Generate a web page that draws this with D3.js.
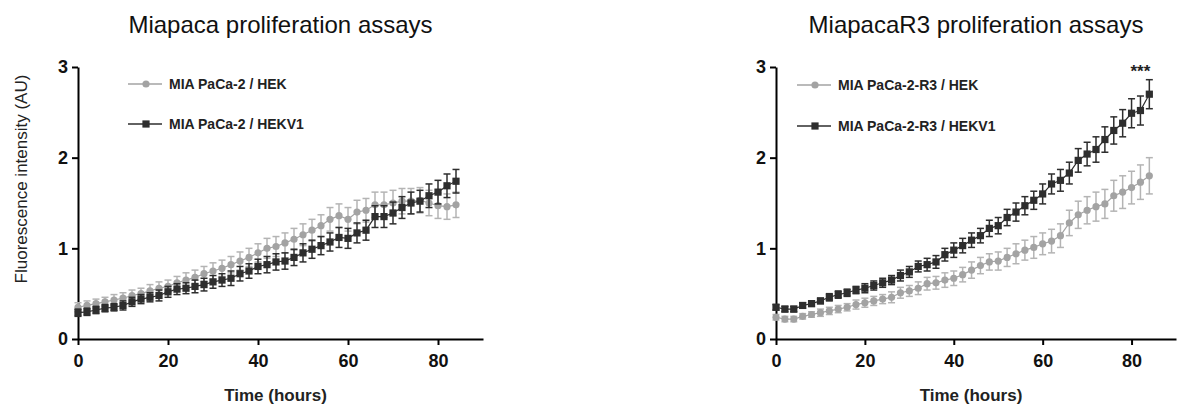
<!DOCTYPE html>
<meta charset="utf-8">
<style>
body { margin: 0; background: #fff; }
text { font-family: "Liberation Sans", Arial, sans-serif; }
.axis path, .axis line { stroke: #000; stroke-width: 2px; }
.axis text { font-size: 18px; font-weight: bold; fill: #111; }
.title { font-size: 24px; fill: #111; }
.xlab { font-size: 17px; font-weight: bold; fill: #222; }
.ylab { font-size: 17px; fill: #222; }
.leg { font-size: 14px; font-weight: bold; fill: #222; }
</style>
<svg width="1178" height="407" id="chart"></svg>
<script src="https://d3js.org/d3.v7.min.js"></script>
<script>
// time points (hours)
var hours = d3.range(0, 86, 2);

// left panel: MIA PaCa-2
var hekA = [0.35,0.37,0.39,0.41,0.43,0.45,0.48,0.50,0.53,0.56,0.58,0.62,0.65,0.68,0.72,0.75,0.78,0.82,0.86,0.90,0.95,1.00,1.02,1.06,1.10,1.15,1.20,1.25,1.32,1.36,1.32,1.40,1.42,1.48,1.48,1.50,1.52,1.52,1.53,1.50,1.47,1.46,1.48];
var hekAerr = [0.05,0.05,0.05,0.05,0.06,0.06,0.06,0.06,0.07,0.07,0.07,0.07,0.08,0.08,0.08,0.09,0.09,0.09,0.10,0.10,0.10,0.11,0.11,0.11,0.12,0.12,0.12,0.12,0.13,0.13,0.13,0.13,0.13,0.14,0.14,0.14,0.14,0.14,0.14,0.14,0.14,0.14,0.14];
var v1A = [0.29,0.30,0.32,0.34,0.35,0.37,0.41,0.44,0.46,0.48,0.52,0.55,0.56,0.58,0.60,0.63,0.65,0.67,0.72,0.75,0.80,0.82,0.85,0.86,0.90,0.95,0.99,1.03,1.07,1.12,1.11,1.17,1.20,1.35,1.35,1.39,1.45,1.50,1.52,1.58,1.62,1.69,1.74];
var v1Aerr = [0.04,0.04,0.04,0.04,0.04,0.05,0.05,0.05,0.05,0.06,0.06,0.06,0.06,0.07,0.07,0.07,0.07,0.08,0.08,0.08,0.08,0.09,0.09,0.09,0.09,0.10,0.10,0.10,0.10,0.11,0.11,0.11,0.11,0.12,0.12,0.12,0.12,0.12,0.12,0.13,0.13,0.13,0.13];

// right panel: MIA PaCa-2-R3
var hekB = [0.24,0.22,0.22,0.25,0.27,0.29,0.31,0.33,0.35,0.38,0.40,0.42,0.44,0.46,0.51,0.53,0.56,0.61,0.62,0.65,0.67,0.71,0.76,0.81,0.85,0.86,0.90,0.94,0.98,1.01,1.05,1.08,1.14,1.28,1.37,1.42,1.46,1.49,1.58,1.62,1.67,1.73,1.80];
var hekBerr = [0.03,0.03,0.03,0.03,0.03,0.04,0.04,0.04,0.04,0.05,0.05,0.05,0.05,0.06,0.06,0.06,0.07,0.07,0.07,0.08,0.08,0.08,0.09,0.09,0.09,0.10,0.10,0.11,0.11,0.12,0.12,0.13,0.13,0.14,0.15,0.15,0.16,0.16,0.17,0.18,0.18,0.19,0.20];
var v1B = [0.35,0.33,0.33,0.37,0.39,0.42,0.46,0.49,0.51,0.54,0.56,0.59,0.62,0.65,0.70,0.74,0.80,0.82,0.85,0.93,0.98,1.03,1.09,1.14,1.22,1.25,1.34,1.40,1.47,1.53,1.60,1.71,1.75,1.83,1.97,2.04,2.09,2.20,2.30,2.38,2.49,2.52,2.70];
var v1Berr = [0.03,0.03,0.03,0.03,0.03,0.03,0.04,0.04,0.04,0.04,0.05,0.05,0.05,0.05,0.06,0.06,0.06,0.07,0.07,0.07,0.08,0.08,0.08,0.08,0.09,0.09,0.09,0.10,0.10,0.10,0.11,0.11,0.12,0.12,0.13,0.13,0.14,0.14,0.15,0.15,0.16,0.16,0.16];

var yTicks = [0, 1, 2, 3];
var xTicks = [0, 20, 40, 60, 80];

var panels = [
  { title: "Miapaca proliferation assays", x0: 78, x1: 483, names: ["MIA PaCa-2 / HEK", "MIA PaCa-2 / HEKV1"],
    gray: hekA, grayErr: hekAerr, dark: v1A, darkErr: v1Aerr, ylab: true, legX: 128, legY: [84, 124], star: false },
  { title: "MiapacaR3 proliferation assays", x0: 776, x1: 1176, names: ["MIA PaCa-2-R3 / HEK", "MIA PaCa-2-R3 / HEKV1"],
    gray: hekB, grayErr: hekBerr, dark: v1B, darkErr: v1Berr, ylab: false, legX: 797, legY: [85, 126], star: true }
];

var svg = d3.select("#chart");
var grayCol = "#a3a3a3", grayBar = "#b4b4b4", darkCol = "#2e2e2e";

panels.forEach(function(p) {
  var x = d3.scaleLinear().domain([0, 90]).range([p.x0, p.x1]);
  var y = d3.scaleLinear().domain([0, 3]).range([339, 67]);
  var g = svg.append("g");

  g.append("g").attr("class", "axis").attr("transform", "translate(0,339)")
    .call(d3.axisBottom(x).tickValues(xTicks).tickSize(6).tickSizeOuter(0).tickPadding(9));
  g.append("g").attr("class", "axis").attr("transform", "translate(" + p.x0 + ",0)")
    .call(d3.axisLeft(y).tickValues(yTicks).tickFormat(d3.format("d")).tickSize(6).tickSizeOuter(0).tickPadding(4));
  g.selectAll(".axis .domain").attr("stroke-width", 2.5);

  g.append("text").attr("class", "title").attr("text-anchor", "middle")
    .attr("x", (p.x0 + p.x1) / 2).attr("y", 33).text(p.title);
  g.append("text").attr("class", "xlab").attr("text-anchor", "middle")
    .attr("x", (p.x0 + p.x1) / 2 - 5).attr("y", 401).text("Time (hours)");
  if (p.ylab) {
    g.append("text").attr("class", "ylab").attr("text-anchor", "middle")
      .attr("transform", "translate(27,179) rotate(-90)").text("Fluorescence  intensity (AU)");
  }

  var line = d3.line().x(function(d, i) { return x(hours[i]); }).y(function(d) { return y(d); });

  function series(vals, errs, col, barCol, shape) {
    var s = g.append("g");
    s.append("path").datum(vals).attr("d", line).attr("fill", "none").attr("stroke", col).attr("stroke-width", 1.2);
    var e = s.selectAll(".eb").data(vals).enter().append("g").attr("stroke", barCol).attr("stroke-width", 1.5);
    e.append("line").attr("x1", function(d, i) { return x(hours[i]); }).attr("x2", function(d, i) { return x(hours[i]); })
      .attr("y1", function(d, i) { return y(d + errs[i]); }).attr("y2", function(d, i) { return y(d - errs[i]); });
    e.append("line").attr("x1", function(d, i) { return x(hours[i]) - 3.5; }).attr("x2", function(d, i) { return x(hours[i]) + 3.5; })
      .attr("y1", function(d, i) { return y(d + errs[i]); }).attr("y2", function(d, i) { return y(d + errs[i]); });
    e.append("line").attr("x1", function(d, i) { return x(hours[i]) - 3.5; }).attr("x2", function(d, i) { return x(hours[i]) + 3.5; })
      .attr("y1", function(d, i) { return y(d - errs[i]); }).attr("y2", function(d, i) { return y(d - errs[i]); });
    if (shape == "circle") {
      s.selectAll("circle").data(vals).enter().append("circle")
        .attr("cx", function(d, i) { return x(hours[i]); }).attr("cy", function(d) { return y(d); })
        .attr("r", 3.6).attr("fill", col);
    } else {
      s.selectAll("rect").data(vals).enter().append("rect")
        .attr("x", function(d, i) { return x(hours[i]) - 3.6; }).attr("y", function(d) { return y(d) - 3.6; })
        .attr("width", 7.2).attr("height", 7.2).attr("fill", col);
    }
  }
  series(p.gray, p.grayErr, grayCol, grayBar, "circle");
  series(p.dark, p.darkErr, darkCol, darkCol, "square");

  // legend
  [0, 1].forEach(function(k) {
    var col = k == 0 ? grayCol : darkCol;
    var ly = p.legY[k];
    g.append("line").attr("x1", p.legX).attr("x2", p.legX + 34).attr("y1", ly).attr("y2", ly)
      .attr("stroke", col).attr("stroke-width", 1.5);
    if (k == 0) g.append("circle").attr("cx", p.legX + 18).attr("cy", ly).attr("r", 3.6).attr("fill", col);
    else g.append("rect").attr("x", p.legX + 14.4).attr("y", ly - 3.6).attr("width", 7.2).attr("height", 7.2).attr("fill", col);
    g.append("text").attr("class", "leg").attr("x", p.legX + 41).attr("y", ly + 5).text(p.names[k]);
  });

  if (p.star) {
    g.append("text").attr("text-anchor", "middle").attr("x", x(82)).attr("y", 77)
      .style("font-size", "17px").style("font-weight", "bold").attr("fill", "#222").text("***");
  }
});
</script>
